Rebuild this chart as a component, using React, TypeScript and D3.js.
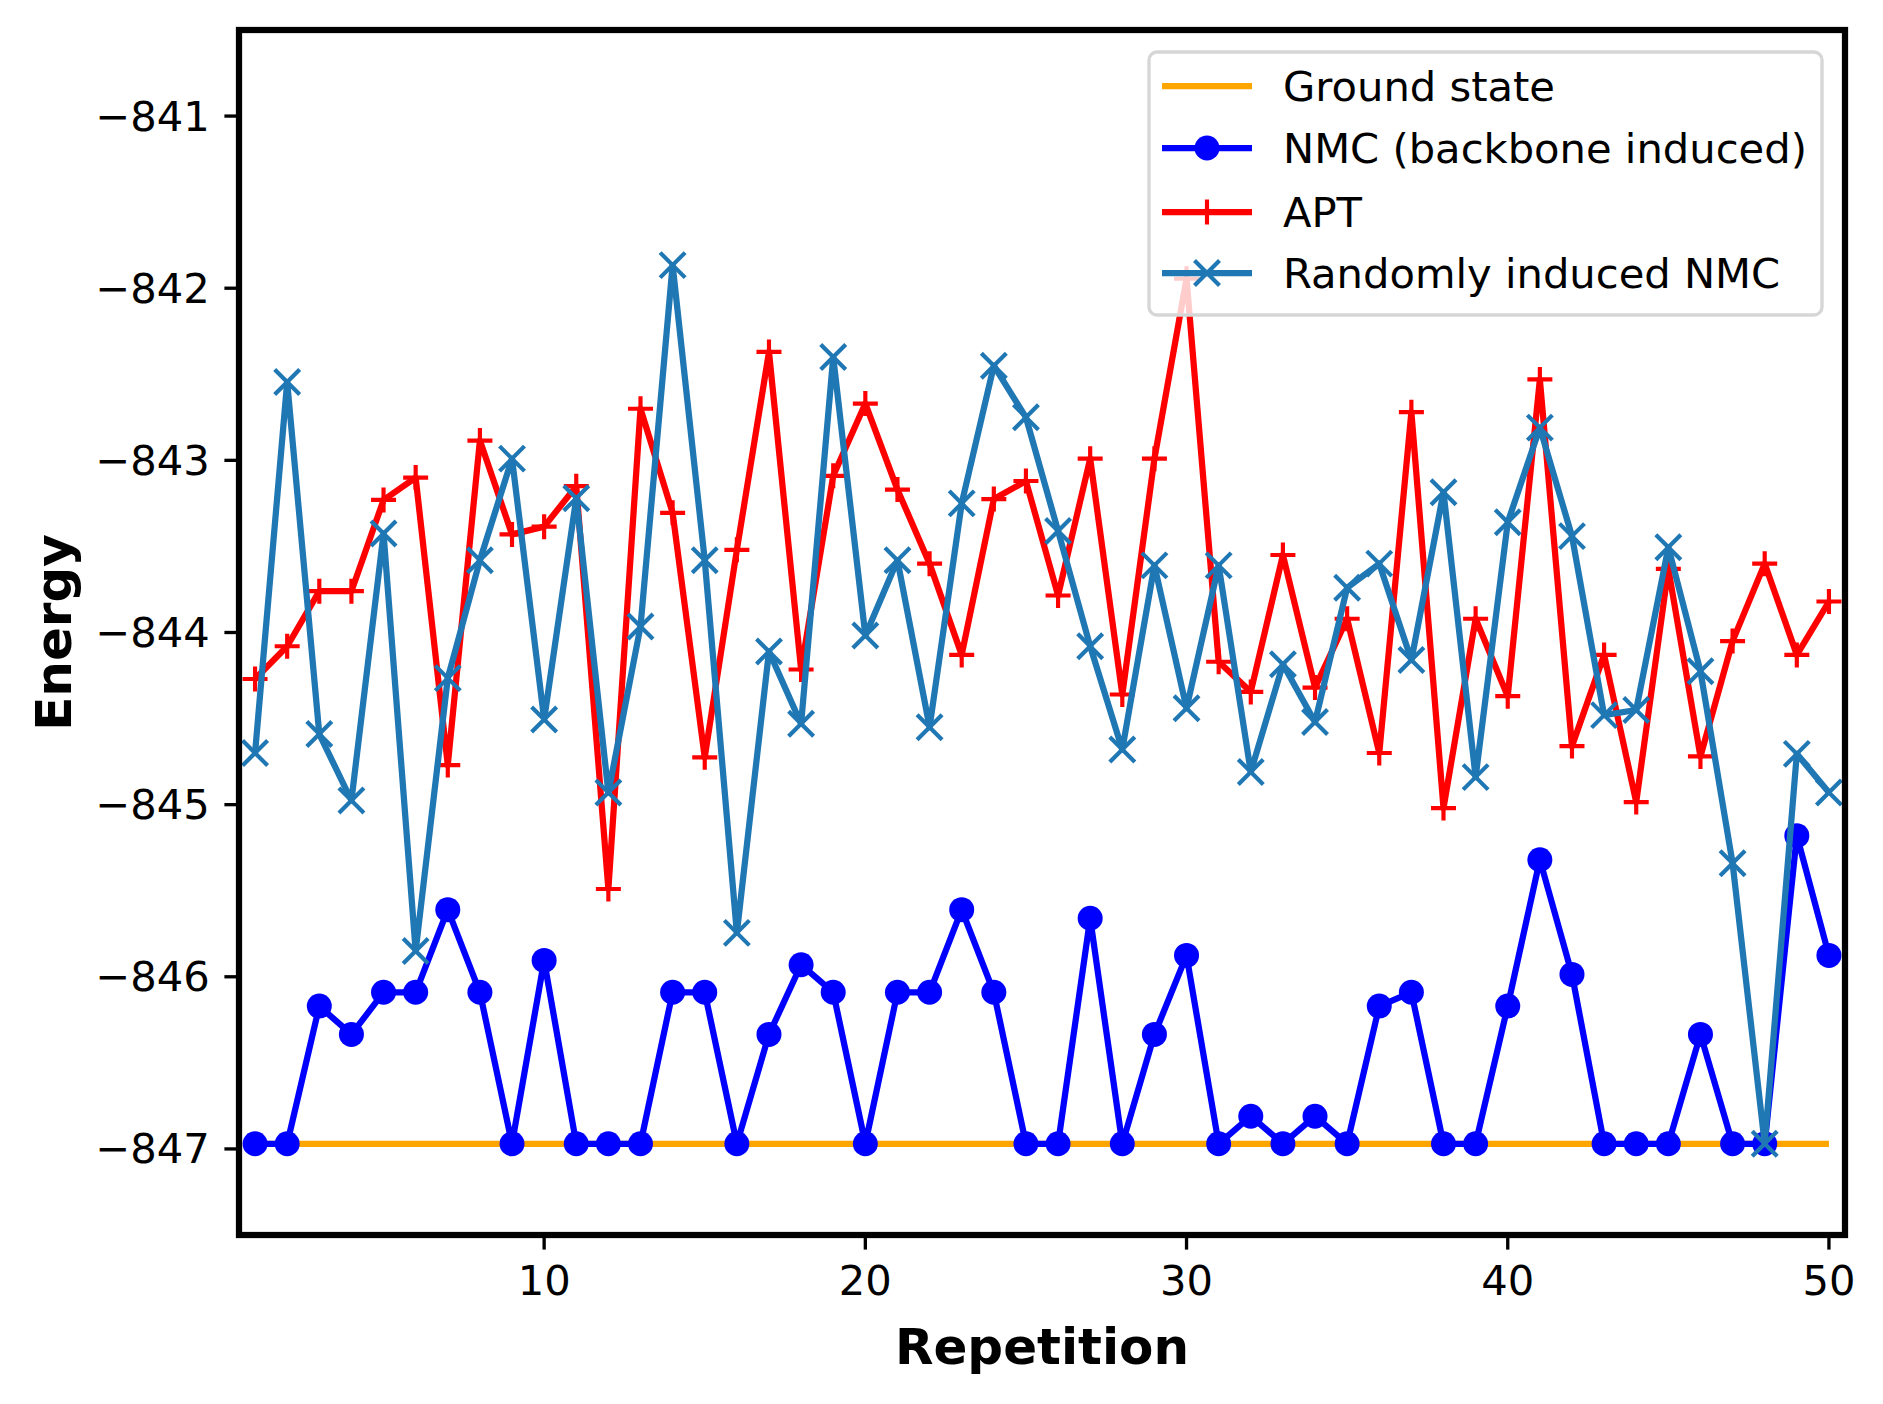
import React from 'react';
import * as d3 from 'd3';

// values, repetition 1..50
const repetitions = d3.range(1, 51);
const groundState = -846.97;

const nmcBackbone = [
  -846.97, -846.97, -846.17, -846.335, -846.09, -846.09, -845.61, -846.09, -846.97, -845.905,
  -846.97, -846.97, -846.97, -846.09, -846.09, -846.97, -846.335, -845.93, -846.09, -846.97,
  -846.09, -846.09, -845.61, -846.09, -846.97, -846.97, -845.66, -846.97, -846.335, -845.876,
  -846.97, -846.81, -846.97, -846.81, -846.97, -846.17, -846.09, -846.97, -846.97, -846.17,
  -845.32, -845.986, -846.97, -846.97, -846.97, -846.335, -846.97, -846.97, -845.18, -845.876,
];

const apt = [
  -844.27, -844.08, -843.76, -843.76, -843.23, -843.10, -844.77, -842.885, -843.43, -843.385,
  -843.15, -845.49, -842.70, -843.305, -844.725, -843.52, -842.37, -844.215, -843.09, -842.67,
  -843.17, -843.60, -844.13, -843.225, -843.12, -843.785, -842.99, -844.36, -842.99, -841.945,
  -844.17, -844.345, -843.55, -844.32, -843.92, -844.70, -842.72, -845.02, -843.92, -844.37,
  -842.53, -844.66, -844.13, -844.985, -843.63, -844.72, -844.05, -843.60, -844.13, -843.82,
];

const randomNmc = [
  -844.70, -842.545, -844.59, -844.976, -843.425, -845.85, -844.265, -843.58, -842.99, -844.505,
  -843.22, -844.93, -843.965, -841.866, -843.58, -845.745, -844.11, -844.53, -842.40, -844.017,
  -843.58, -844.55, -843.25, -842.45, -842.75, -843.41, -844.08, -844.68, -843.61, -844.44,
  -843.61, -844.81, -844.185, -844.52, -843.74, -843.60, -844.16, -843.185, -844.84, -843.36,
  -842.81, -843.44, -844.48, -844.45, -843.505, -844.225, -845.34, -846.97, -844.705, -844.93,
];

const xTicks = [10, 20, 30, 40, 50];
const yTicks = [-847, -846, -845, -844, -843, -842, -841];
const legendLabels = ['Ground state', 'NMC (backbone induced)', 'APT', 'Randomly induced NMC'];

const W = 1883;
const H = 1404;
const margin = { left: 239, right: 1845, top: 30, bottom: 1235 };
const FONT = "'DejaVu Sans', sans-serif";
const fs = 41.67;
const lw = 6.25;
const ms = 25;
const mew = 4.17;

const x = d3.scaleLinear().domain([0.5, 50.5]).range([margin.left, margin.right]);
const y = d3.scaleLinear().domain([-847.5, -840.5]).range([margin.bottom, margin.top]);
const fmt = d3.format('d');

type Pt = [number, number];
const toPts = (vals: number[]): Pt[] => vals.map((v, i) => [repetitions[i], v]);
const line = d3.line<Pt>().x(d => x(d[0])).y(d => y(d[1]));

const Circle = ({ cx, cy }: { cx: number; cy: number }) => (
  <circle cx={cx} cy={cy} r={ms / 2} fill="#0000ff" />
);
const Plus = ({ cx, cy, c }: { cx: number; cy: number; c: string }) => (
  <path d={`M${cx - ms / 2},${cy}H${cx + ms / 2}M${cx},${cy - ms / 2}V${cy + ms / 2}`} stroke={c} strokeWidth={mew} />
);
const Cross = ({ cx, cy, c }: { cx: number; cy: number; c: string }) => {
  const h = ms / 2;
  return (
    <path d={`M${cx - h},${cy - h}L${cx + h},${cy + h}M${cx - h},${cy + h}L${cx + h},${cy - h}`} stroke={c} strokeWidth={mew} />
  );
};

const App = () => {
  const nmcPts = toPts(nmcBackbone);
  const aptPts = toPts(apt);
  const rndPts = toPts(randomNmc);
  const groundPts: Pt[] = [[repetitions[0], groundState], [repetitions[repetitions.length - 1], groundState]];

  const lg = { x0: 1149, x1: 1822, y0: 52, y1: 315 };
  const rows = [86, 148, 212, 273];
  const hx0 = 1162, hx1 = 1252, hxm = (hx0 + hx1) / 2, tx = 1283;

  return (
    <div style={{ position: 'absolute', left: 0, top: 0 }}>
      <svg width={W} height={H} style={{ display: 'block', background: '#fff' }} fontFamily={FONT}>
        <defs>
          <clipPath id="plotArea">
            <rect x={margin.left} y={margin.top} width={margin.right - margin.left} height={margin.bottom - margin.top} />
          </clipPath>
        </defs>
        <rect width={W} height={H} fill="#fff" />

        <g clipPath="url(#plotArea)">
          <path d={line(groundPts) || ''} fill="none" stroke="#ffa500" strokeWidth={lw} />

          <path d={line(nmcPts) || ''} fill="none" stroke="#0000ff" strokeWidth={lw} strokeLinejoin="round" />
          {nmcPts.map((d, i) => <Circle key={'n' + i} cx={x(d[0])} cy={y(d[1])} />)}

          <path d={line(aptPts) || ''} fill="none" stroke="#ff0000" strokeWidth={lw} strokeLinejoin="round" />
          {aptPts.map((d, i) => <Plus key={'a' + i} cx={x(d[0])} cy={y(d[1])} c="#ff0000" />)}

          <path d={line(rndPts) || ''} fill="none" stroke="#1f77b4" strokeWidth={lw} strokeLinejoin="round" />
          {rndPts.map((d, i) => <Cross key={'r' + i} cx={x(d[0])} cy={y(d[1])} c="#1f77b4" />)}
        </g>

        {/* y axis ticks */}
        {yTicks.map(t => (
          <g key={'y' + t}>
            <line x1={margin.left - 14.6} x2={margin.left} y1={y(t)} y2={y(t)} stroke="#000" strokeWidth={3.33} />
            <text x={margin.left - 29.2} y={y(t)} textAnchor="end" dominantBaseline="central" fontSize={fs}>
              {fmt(t)}
            </text>
          </g>
        ))}

        {/* x axis ticks */}
        {xTicks.map(t => (
          <g key={'x' + t}>
            <line x1={x(t)} x2={x(t)} y1={margin.bottom} y2={margin.bottom + 14.6} stroke="#000" strokeWidth={3.33} />
            <text x={x(t)} y={margin.bottom + 29.2 + 30.4} textAnchor="middle" fontSize={fs}>
              {fmt(t)}
            </text>
          </g>
        ))}

        <rect x={margin.left} y={margin.top} width={margin.right - margin.left} height={margin.bottom - margin.top}
          fill="none" stroke="#000" strokeWidth={lw} />

        <text x={(margin.left + margin.right) / 2} y={1364} textAnchor="middle" fontSize={50} fontWeight="bold">
          Repetition
        </text>
        <text transform={`translate(71,${(margin.top + margin.bottom) / 2}) rotate(-90)`} textAnchor="middle"
          fontSize={50} fontWeight="bold">
          Energy
        </text>

        {/* legend */}
        <rect x={lg.x0} y={lg.y0} width={lg.x1 - lg.x0} height={lg.y1 - lg.y0} rx={8} ry={8}
          fill="#fff" fillOpacity={0.8} stroke="#d6d6d6" strokeWidth={3.33} />
        <line x1={hx0} x2={hx1} y1={rows[0]} y2={rows[0]} stroke="#ffa500" strokeWidth={lw} />
        <line x1={hx0} x2={hx1} y1={rows[1]} y2={rows[1]} stroke="#0000ff" strokeWidth={lw} />
        <Circle cx={hxm} cy={rows[1]} />
        <line x1={hx0} x2={hx1} y1={rows[2]} y2={rows[2]} stroke="#ff0000" strokeWidth={lw} />
        <Plus cx={hxm} cy={rows[2]} c="#ff0000" />
        <line x1={hx0} x2={hx1} y1={rows[3]} y2={rows[3]} stroke="#1f77b4" strokeWidth={lw} />
        <Cross cx={hxm} cy={rows[3]} c="#1f77b4" />
        {legendLabels.map((l, i) => (
          <text key={l} x={tx} y={rows[i]} dominantBaseline="central" fontSize={fs}>{l}</text>
        ))}
      </svg>
    </div>
  );
};

export default App;
